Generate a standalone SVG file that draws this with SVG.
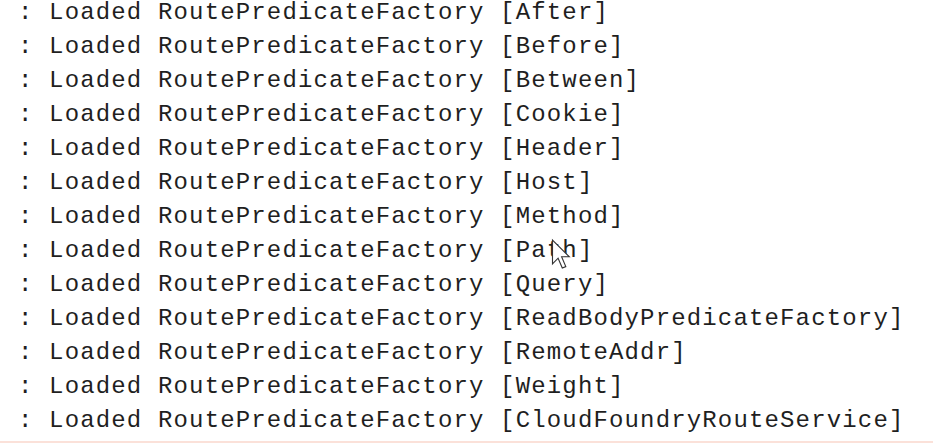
<svg xmlns="http://www.w3.org/2000/svg" width="933" height="443" viewBox="0 0 933 443">
<style>
.t{font-family:"Liberation Mono","DejaVu Sans Mono",monospace;font-size:24px;letter-spacing:1.15px;fill:#1f1f1f}
</style>
<rect x="0" y="0" width="933" height="443" fill="#ffffff"/>
<rect x="0" y="441" width="933" height="2" fill="#fbe1d9"/>
<g id="log">
<text class="t" x="18" y="19">: Loaded RoutePredicateFactory [After]</text>
<text class="t" x="18" y="53">: Loaded RoutePredicateFactory [Before]</text>
<text class="t" x="18" y="87">: Loaded RoutePredicateFactory [Between]</text>
<text class="t" x="18" y="121">: Loaded RoutePredicateFactory [Cookie]</text>
<text class="t" x="18" y="155">: Loaded RoutePredicateFactory [Header]</text>
<text class="t" x="18" y="189">: Loaded RoutePredicateFactory [Host]</text>
<text class="t" x="18" y="223">: Loaded RoutePredicateFactory [Method]</text>
<text class="t" x="18" y="257">: Loaded RoutePredicateFactory [Path]</text>
<text class="t" x="18" y="291">: Loaded RoutePredicateFactory [Query]</text>
<text class="t" x="18" y="325">: Loaded RoutePredicateFactory [ReadBodyPredicateFactory]</text>
<text class="t" x="18" y="359">: Loaded RoutePredicateFactory [RemoteAddr]</text>
<text class="t" x="18" y="393">: Loaded RoutePredicateFactory [Weight]</text>
<text class="t" x="18" y="427">: Loaded RoutePredicateFactory [CloudFoundryRouteService]</text>
</g>
<g id="cursor" transform="translate(552.5,240) scale(1.4)">
<path d="M0,0 L0,17 L4,13 L7,20 L9.5,19 L6.5,12 L12,12 Z" fill="#ffffff" stroke="#333333" stroke-width="0.8" stroke-linejoin="miter"/>
</g>
</svg>
